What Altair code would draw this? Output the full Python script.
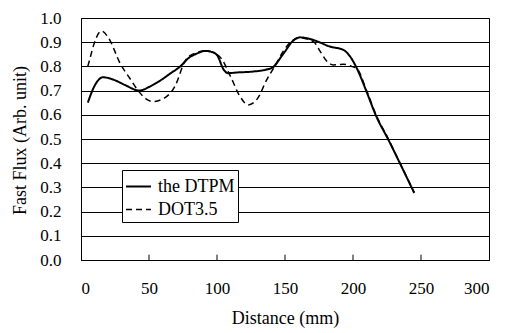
import altair as alt
import pandas as pd

# ---- data ----
dtpm_x = [5, 10, 16, 24, 32, 43, 50, 57, 66, 73, 79, 86, 91, 96, 100, 105, 108, 115,
          127, 140, 149, 156, 161, 171, 183, 193, 198, 203, 210, 217, 226, 235, 245]
dtpm_y = [0.65, 0.72, 0.755, 0.745, 0.724, 0.70, 0.715, 0.737, 0.772, 0.80, 0.834, 0.855,
          0.864, 0.86, 0.847, 0.786, 0.772, 0.775, 0.779, 0.793, 0.854, 0.906, 0.92, 0.909,
          0.882, 0.868, 0.84, 0.79, 0.695, 0.595, 0.497, 0.394, 0.277]

dot_x = [5, 6, 10, 15, 20, 29, 36, 42, 48, 53, 60, 69, 77, 84, 93, 98, 103, 110, 117, 123,
         130, 136.5, 143, 148.5, 155, 161, 171, 176, 181, 185.5, 193, 199, 203, 210, 217,
         226, 235, 245]
dot_y = [0.80, 0.82, 0.90, 0.946, 0.92, 0.81, 0.75, 0.70, 0.665, 0.655, 0.665, 0.717, 0.827,
         0.855, 0.865, 0.855, 0.834, 0.758, 0.675, 0.641, 0.669, 0.744, 0.806, 0.861, 0.905,
         0.918, 0.902, 0.861, 0.82, 0.806, 0.809, 0.80, 0.79, 0.70, 0.60, 0.50, 0.395, 0.28]

series_names = ["the DTPM", "DOT3.5"]
x_ticks = [0, 50, 100, 150, 200, 250, 300]
y_ticks = [0.0, 0.1, 0.2, 0.3, 0.4, 0.5, 0.6, 0.7, 0.8, 0.9, 1.0]
inner_ticks = [50, 100, 150, 200, 250]

df = pd.concat([
    pd.DataFrame({"distance": dtpm_x, "flux": dtpm_y, "series": series_names[0]}),
    pd.DataFrame({"distance": dot_x, "flux": dot_y, "series": series_names[1]}),
])
tick_df = pd.DataFrame({"distance": inner_ticks, "flux": [0.0] * len(inner_ticks),
                        "flux2": [0.022] * len(inner_ticks)})

FONT = "Liberation Serif, Times New Roman, serif"

x_scale = alt.Scale(domain=[0, 300], nice=False)
y_scale = alt.Scale(domain=[0, 1.0], nice=False)
x_axis = alt.Axis(values=x_ticks, title="Distance (mm)", grid=False,
                  ticks=False, labelPadding=20, format="d",
                  titleX=204, titleY=58, titleBaseline="middle", titleAlign="center")
y_axis = alt.Axis(values=y_ticks, format=".1f", title="Fast Flux (Arb. unit)",
                  grid=True, ticks=False, labelPadding=20,
                  titleX=-61, titleY=122, titleBaseline="middle", titleAlign="center")

legend = alt.Legend(title=None, orient="none", legendX=41, legendY=152)

lines = alt.Chart(df).mark_line(interpolate="monotone").encode(
    x=alt.X("distance:Q", scale=x_scale, axis=x_axis),
    y=alt.Y("flux:Q", scale=y_scale, axis=y_axis),
    color=alt.Color("series:N", sort=series_names,
                    scale=alt.Scale(domain=series_names, range=["black", "black"]),
                    legend=legend),
    strokeDash=alt.StrokeDash("series:N", sort=series_names,
                              scale=alt.Scale(domain=series_names, range=[[1, 0], [6, 4]]),
                              legend=legend),
    strokeWidth=alt.StrokeWidth("series:N",
                                scale=alt.Scale(domain=series_names, range=[2, 1.5]),
                                legend=None),
)

ticks = alt.Chart(tick_df).mark_rule(color="black", strokeWidth=1).encode(
    x=alt.X("distance:Q", scale=x_scale, axis=x_axis),
    y=alt.Y("flux:Q", scale=y_scale, axis=y_axis),
    y2="flux2:Q",
)

chart = alt.layer(lines, ticks).properties(
    width=408, height=242,
    padding={"left": 81, "top": 18, "right": 16, "bottom": 73},
    autosize=alt.AutoSizeParams(type="none"),
    background="white",
).configure(
    font=FONT
).configure_view(
    stroke="black", strokeWidth=1
).configure_axis(
    labelFont=FONT, labelFontSize=17, labelColor="black",
    titleFont=FONT, titleFontSize=18, titleColor="black", titleFontWeight="normal",
    domainColor="black", domainWidth=1,
    gridColor="black", gridWidth=1, gridOpacity=1,
    labelOverlap=False,
).configure_legend(
    strokeColor="black", fillColor="white", padding=3,
    labelFont=FONT, labelFontSize=18, labelColor="black",
    symbolType="stroke", symbolSize=620, symbolStrokeWidth=1.6,
    symbolStrokeColor="black", rowPadding=0, labelOffset=6, cornerRadius=0,
)

chart.save("out.html", embed_options={"renderer": "svg", "actions": False})
